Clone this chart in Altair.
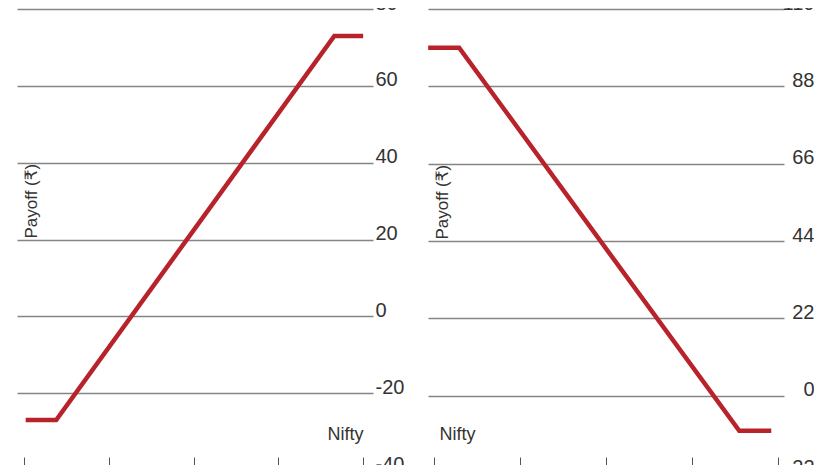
import altair as alt
import pandas as pd

# Data
left_nifty = [0.5, 9.5, 91.5, 100]
left_payoff = [-27, -27, 73, 73]
right_nifty = [-1.7, 7.3, 88.7, 98]
right_payoff = [99, 99, -10, -10]

left_ticks = [-40, -20, 0, 20, 40, 60, 80]
right_ticks = [-22, 0, 22, 44, 66, 88, 110]
x_ticks = [0, 25, 50, 75, 100]

RED = "#b8232b"
GRID = "#858585"
TEXT = "#333333"
FONT = "Liberation Sans, DejaVu Sans, sans-serif"
HYPHEN_LABEL = "replace(datum.label, '\u2212', '-')"

df_left = pd.DataFrame({"nifty": left_nifty, "payoff": left_payoff})
df_right = pd.DataFrame({"nifty": right_nifty, "payoff": right_payoff})

left = alt.Chart(df_left).mark_line(color=RED, strokeWidth=4.5, strokeJoin="miter").encode(
    x=alt.X("nifty:Q",
            scale=alt.Scale(domain=[-2.06, 102.9], nice=False, zero=False),
            axis=alt.Axis(values=x_ticks, labels=False, domain=False, grid=False,
                          ticks=True, tickSize=12, tickColor="#555555", tickWidth=1,
                          offset=-13, title="Nifty", titleX=346, titleY=-18,
                          titleAlign="right", titleBaseline="alphabetic",
                          titleFont=FONT, titleFontSize=18, titleFontWeight="normal",
                          titleColor=TEXT)),
    y=alt.Y("payoff:Q",
            scale=alt.Scale(domain=[-40, 80], nice=False, zero=False),
            axis=alt.Axis(orient="right", values=left_ticks, grid=True, gridColor=GRID,
                          gridWidth=1.3, ticks=False, tickSize=0, domain=False,
                          labelAlign="left", labelBaseline="alphabetic", labelPadding=2,
                          labelExpr=HYPHEN_LABEL,
                          labelFont=FONT, labelFontSize=20, labelColor=TEXT,
                          title="Payoff (₹)", titleAngle=270, titleX=-350, titleY=229,
                          titleAlign="left", titleBaseline="top", titleFont=FONT,
                          titleFontSize=17, titleFontWeight="normal", titleColor=TEXT)),
).properties(width=356, height=461)

right = alt.Chart(df_right).mark_line(color=RED, strokeWidth=4.5, strokeJoin="miter").encode(
    x=alt.X("nifty:Q",
            scale=alt.Scale(domain=[-1.74, 101.7], nice=False, zero=False),
            axis=alt.Axis(values=x_ticks, labels=False, domain=False, grid=False,
                          ticks=True, tickSize=12, tickColor="#555555", tickWidth=1,
                          offset=-16, title="Nifty", titleX=11, titleY=-18,
                          titleAlign="left", titleBaseline="alphabetic",
                          titleFont=FONT, titleFontSize=18, titleFontWeight="normal",
                          titleColor=TEXT)),
    y=alt.Y("payoff:Q",
            scale=alt.Scale(domain=[-22, 110], nice=False, zero=False),
            axis=alt.Axis(orient="right", values=right_ticks, grid=True, gridColor=GRID,
                          gridWidth=1.3, ticks=False, tickSize=0, domain=False,
                          labelAlign="right", labelBaseline="alphabetic", labelPadding=30,
                          labelExpr=HYPHEN_LABEL,
                          labelFont=FONT, labelFontSize=20, labelColor=TEXT,
                          title="Payoff (₹)", titleAngle=270, titleX=-350, titleY=230,
                          titleAlign="left", titleBaseline="top", titleFont=FONT,
                          titleFontSize=17, titleFontWeight="normal", titleColor=TEXT)),
).properties(width=356, height=464)

chart = alt.hconcat(left, right, spacing=55, bounds="flush").properties(
    padding={"left": 8, "top": -15, "right": 0, "bottom": 0},
    background="white",
).configure_view(stroke=None)

chart.save("out.html", embed_options={"renderer": "svg", "actions": False})
